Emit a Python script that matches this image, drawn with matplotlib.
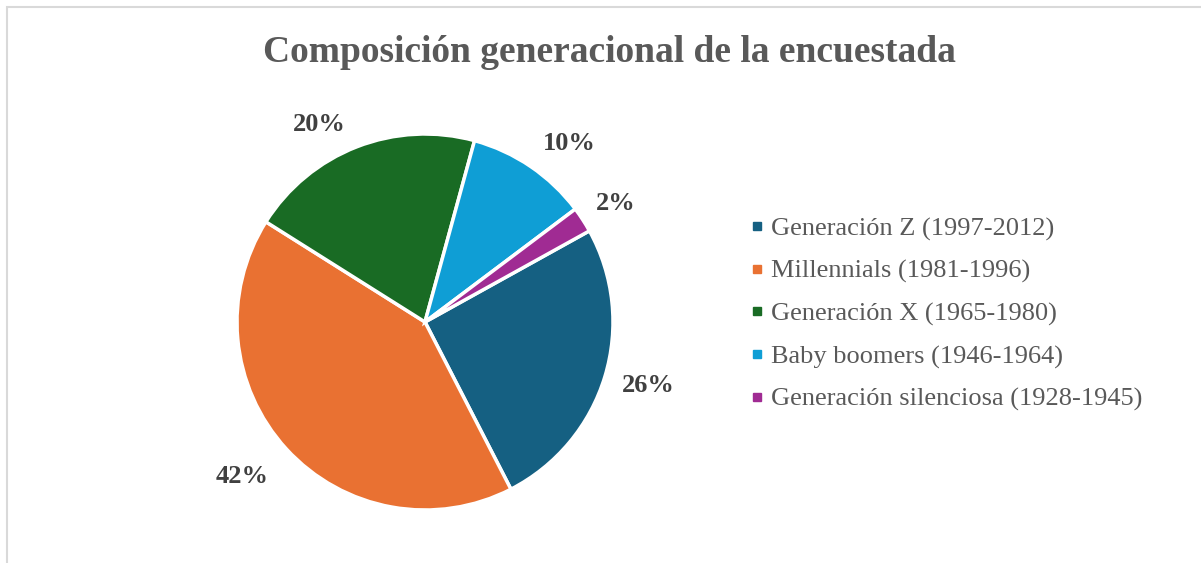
import matplotlib.pyplot as plt
from matplotlib.patches import Rectangle
from matplotlib.lines import Line2D

# datos
generaciones = ['Generación Z (1997-2012)', 'Millennials (1981-1996)',
                'Generación X (1965-1980)', 'Baby boomers (1946-1964)',
                'Generación silenciosa (1928-1945)']
porcentajes = [25.5, 41.5, 20.3, 10.5, 2.2]
etiquetas = ['26%', '42%', '20%', '10%', '2%']
colores = ['#156082', '#E97132', '#196B24', '#0F9ED5', '#A02B93']

# ajuste fino de las etiquetas (en px), como las coloca Excel
ajuste_etiquetas = [(6, 3), (-15, -1), (-23, -14), (17, -10), (0, -5)]

plt.rcParams['font.family'] = ['Liberation Serif', 'DejaVu Serif']

fig = plt.figure(figsize=(12.01, 5.63), dpi=100)

# marco gris del área del gráfico
fig.patches.append(Rectangle((7 / 1201, -0.1), 1.1, (563 - 7) / 563 + 0.1,
                             transform=fig.transFigure, fill=False,
                             edgecolor='#D9D9D9', linewidth=1.5))

fig.text(609 / 1201, 1 - 52 / 563, 'Composición generacional de la encuestada',
         ha='center', va='center', fontsize=27, fontweight='bold', color='#595959')

# eje del pastel: centro (425, 322), radio 188 px
r = 188
ax = fig.add_axes([(425 - r) / 1201, (563 - 322 - r) / 563, 2 * r / 1201, 2 * r / 563])
wedges, textos = ax.pie(porcentajes, labels=etiquetas, colors=colores,
                        startangle=29, counterclock=False, labeldistance=1.21,
                        wedgeprops=dict(edgecolor='white', linewidth=2.5),
                        textprops=dict(fontsize=19, fontweight='bold', color='#404040'))
for t, (dx, dy) in zip(textos, ajuste_etiquetas):
    x, y = t.get_position()
    t.set_position((x + dx / r, y + dy / r))
    t.set_ha('center')
    t.set_va('center')
ax.set_xlim(-1, 1)
ax.set_ylim(-1, 1)
ax.set_aspect('equal')

marcas = [Line2D([], [], linestyle='none', marker='s', markersize=5.5,
                 markerfacecolor=c, markeredgecolor=c) for c in colores]
fig.legend(marcas, generaciones, loc='center left',
           bbox_to_anchor=(737 / 1201, 1 - 314 / 563), frameon=False, borderpad=0,
           fontsize=19, labelcolor='#595959', handlelength=0.5,
           handletextpad=0.3, labelspacing=0.71)

fig.savefig('out.png', dpi=100)
